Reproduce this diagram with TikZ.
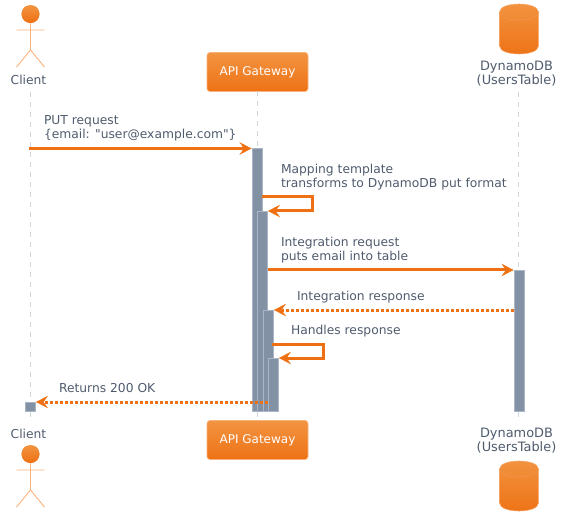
\documentclass[tikz,border=0pt]{standalone}
\usepackage{fontspec}
\setmainfont{DejaVu Sans}[Ligatures=TeXOff]
\usetikzlibrary{arrows.meta,calc}
\definecolor{ora}{HTML}{EF7012}
\definecolor{oratop}{HTML}{F29442}
\definecolor{orabot}{HTML}{EE7215}
\definecolor{oraline}{HTML}{F9B27C}
\definecolor{txt}{HTML}{4F5B6D}
\definecolor{barfill}{HTML}{8391A5}
\definecolor{barline}{HTML}{AAB6C6}
\definecolor{lifeline}{HTML}{CDD5DF}
\tikzset{
  x=1pt,y=-1pt,
  lbl/.style={text=txt,font=\fontsize{12.3}{14}\selectfont,inner sep=0pt,outer sep=0pt},
  msgtext/.style={lbl,anchor=base west,align=left},
  partlabel/.style={lbl,align=center},
  dblabel/.style={lbl,align=center,font=\fontsize{12.9}{14}\selectfont},
  gatebox/.style={rounded corners=3pt,draw=oraline,line width=0.6pt,top color=oratop,bottom color=orabot,text=white,
    font=\fontsize{12}{14}\selectfont,minimum width=101pt,minimum height=39pt,inner sep=0pt,outer sep=0pt,anchor=center},
  barbox/.style={draw=barline,line width=0.8pt,fill=barfill,inner sep=0pt,outer sep=0pt,minimum width=10.5pt,anchor=north west},
  lifel/.style={draw=lifeline,line width=0.8pt,dash pattern=on 5pt off 5pt},
  headtip/.style={-{Stealth[length=12pt,width=12.5pt,inset=4.5pt,line width=0.4pt]}},
  msg/.style={draw=ora,line width=3pt,headtip,shorten >=0.5pt},
  ret/.style={draw=ora,line width=3pt,dash pattern=on 3pt off 2pt,headtip,shorten >=0.5pt},
  actor/.pic={
    \begin{scope}
      \clip (0,-9) circle[radius=9pt];
      \foreach \i in {0,...,17}{
        \pgfmathtruncatemacro{\p}{100-\i*100/17}
        \fill[oratop!\p!orabot] (-10,-18+\i) rectangle (10,-16+\i);
      }
    \end{scope}
    \draw[oraline,line width=0.9pt] (0,0) -- (0,27) (-14,7) -- (14,7) (-14,44) -- (0,27) -- (14,44);
  },
  dbcyl/.pic={
    \shade[top color=oratop,bottom color=orabot,draw=oraline,line width=0.5pt]
      (-19.5,8) .. controls (-19.5,-2.7) and (19.5,-2.7) .. (19.5,8) -- (19.5,42)
      .. controls (19.5,52.7) and (-19.5,52.7) .. (-19.5,42) -- cycle;
    \draw[oraline!55!orabot,line width=0.5pt] (-19.5,8) .. controls (-19.5,18.7) and (19.5,18.7) .. (19.5,8);
  },
}
\begin{document}
\begin{tikzpicture}
\useasboundingbox (0,0) rectangle (563,524);

% participants
\node[partlabel] (clientT) at (28.5,79.5) {Client};
\node[gatebox] (gateT) at (257.5,72) {API Gateway};
\node[dblabel] (dbT) at (516.5,73.5) {DynamoDB\\(UsersTable)};
\node[partlabel] (clientB) at (28.5,433.5) {Client};
\node[gatebox] (gateB) at (257.5,440) {API Gateway};
\node[dblabel] (dbB) at (516.5,441) {DynamoDB\\(UsersTable)};
\pic at (30.5,23) {actor};
\pic at (30.5,463) {actor};
\pic at (519,4) {dbcyl};
\pic at (519,461) {dbcyl};

% lifelines
\coordinate (clientTop) at (30.5,92);
\coordinate (clientBot) at (30.5,420);
\coordinate (dbTop) at (518.5,92);
\coordinate (dbBot) at (518.5,420);
\draw[lifel] (clientTop) -- (clientBot);
\draw[lifel] (gateT.south) -- (gateB.north);
\draw[lifel] (dbTop) -- (dbBot);

% activation bars
\node[barbox,minimum height=263pt] (b1) at (252,148) {};
\node[barbox,minimum height=200pt] (b2) at (257,211) {};
\node[barbox,minimum height=101pt] (b3) at (263,310) {};
\node[barbox,minimum height=53pt] (b4) at (268,358) {};
\node[barbox,minimum height=141pt] (bd) at (514,270) {};
\node[barbox,minimum height=9pt] (bc) at (25,402) {};

% messages
\coordinate (m1s) at (29,148.5);
\draw[msg] (m1s) -- (b1.west |- m1s);
\coordinate (l1a) at (262,197);
\coordinate (l1b) at (312,197);
\coordinate (l1c) at (312,211);
\draw[msg,line join=miter] (l1a) -- (l1b) -- (l1c) -- (b2.north east);
\draw[msg] (b2.east |- 0,270) -- (bd.north west);
\draw[ret] (bd.west |- 0,310) -- (b3.north east);
\coordinate (l2a) at (272,344);
\coordinate (l2b) at (323,344);
\coordinate (l2c) at (323,358);
\draw[msg,line join=miter] (l2a) -- (l2b) -- (l2c) -- (b4.north east);
\draw[ret] (b4.west |- 0,402) -- (bc.north east);

% message texts
\node[msgtext] (t1) at (44,138.5) {PUT request\\\{email: "user@example.com"\}};
\node[msgtext] (t2) at (281,187.5) {Mapping template\\transforms to DynamoDB put format};
\node[msgtext] (t3) at (281,260.5) {Integration request\\puts email into table};
\node[msgtext] (t4) at (297,300.5) {Integration response};
\node[msgtext] (t5) at (291,334.5) {Handles response};
\node[msgtext] (t6) at (59,392.5) {Returns 200 OK};
\end{tikzpicture}
\end{document}
